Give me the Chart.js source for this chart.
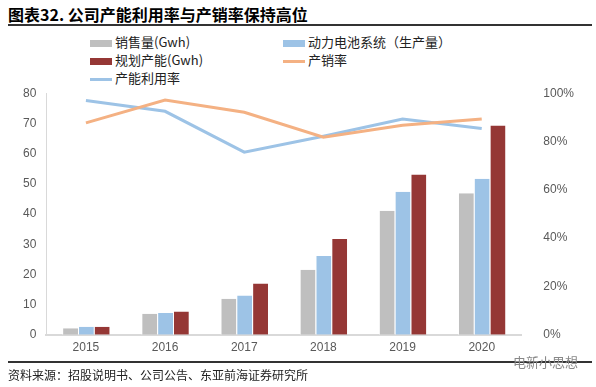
<!DOCTYPE html>
<html>
<head>
<meta charset="utf-8">
<script src="https://cdn.jsdelivr.net/npm/chart.js@4"></script>
<style>
    body { margin: 0; width: 596px; height: 387px; background: #fff; position: relative; overflow: hidden;
           font-family: "Noto Sans CJK SC", "Liberation Sans", sans-serif; }
    #title { position: absolute; left: 8px; top: 2px; font-size: 16px; font-weight: bold; color: #000; }
    .rule { position: absolute; left: 8px; width: 584px; height: 2px; background: #333; }
    #legend { position: absolute; left: 0; top: 0; font-size: 13px; color: #222; }
    .item { position: absolute; white-space: nowrap; line-height: 16px; }
    .box { display: inline-block; width: 22px; height: 7px; vertical-align: middle; margin-right: 3px; }
    .ln { display: inline-block; width: 22px; height: 3px; vertical-align: middle; margin-right: 3px; }
    #wrap { position: absolute; left: 0; top: 64px; width: 596px; height: 300px; }
    #source { position: absolute; left: 8px; top: 366px; font-size: 12px; color: #222; }
    #mark { position: absolute; left: 513px; top: 352px; font-size: 13px; color: #888; }
</style>
</head>
<body>
<div id="title">图表32. 公司产能利用率与产销率保持高位</div>
<div class="rule" style="top:24px"></div>
<div id="legend"></div>
<div id="wrap"><canvas id="c"></canvas></div>
<div class="rule" style="top:361px"></div>
<div id="source">资料来源：招股说明书、公司公告、东亚前海证券研究所</div>
<div id="mark">电新小思想</div>
<script>
// Data
const years = ["2015", "2016", "2017", "2018", "2019", "2020"];
const sales = [2.2, 7.0, 11.9, 21.5, 41.1, 46.9];        // 销售量(Gwh)
const production = [2.7, 7.2, 13.0, 26.1, 47.4, 51.7];  // 动力电池系统（生产量）
const capacity = [2.7, 7.7, 17.0, 31.7, 53.1, 69.3];    // 规划产能(Gwh)
const salesRate = [87.7, 97.2, 92.1, 81.8, 86.7, 89.3];  // 产销率 %
const utilRate = [97.0, 92.5, 75.6, 82.2, 89.3, 85.4];   // 产能利用率 %
const leftTicks = [0, 10, 20, 30, 40, 50, 60, 70, 80];
const rightTicks = [0, 20, 40, 60, 80, 100];

const GRAY = "#bfbfbf", BLUE = "#9dc3e6", RED = "#953735", ORANGE = "#f4b183";

// Legend (two columns like the original)
const legendItems = [
    { label: "销售量(Gwh)", color: GRAY, kind: "box", x: 90, y: 34 },
    { label: "动力电池系统（生产量）", color: BLUE, kind: "box", x: 283, y: 34 },
    { label: "规划产能(Gwh)", color: RED, kind: "box", x: 90, y: 52 },
    { label: "产销率", color: ORANGE, kind: "ln", x: 283, y: 52 },
    { label: "产能利用率", color: BLUE, kind: "ln", x: 90, y: 70 }
];
const legend = document.getElementById("legend");
legendItems.forEach(it => {
    const d = document.createElement("div");
    d.className = "item";
    d.style.left = it.x + "px";
    d.style.top = it.y + "px";
    d.innerHTML = `<span class="${it.kind}" style="background:${it.color}"></span>${it.label}`;
    legend.appendChild(d);
});

const tickFont = { family: "Liberation Sans", size: 12 };

new Chart(document.getElementById("c"), {
    data: {
        labels: years,
        datasets: [
            { type: "line", label: "产销率", data: salesRate, yAxisID: "y2", borderColor: ORANGE,
              borderWidth: 3, pointRadius: 0, tension: 0, order: 0 },
            { type: "line", label: "产能利用率", data: utilRate, yAxisID: "y2", borderColor: BLUE,
              borderWidth: 3, pointRadius: 0, tension: 0, order: 0 },
            { type: "bar", label: "销售量(Gwh)", data: sales, yAxisID: "y", backgroundColor: GRAY,
              borderColor: "#fff", borderWidth: { left: 1, right: 0 }, order: 1 },
            { type: "bar", label: "动力电池系统（生产量）", data: production, yAxisID: "y", backgroundColor: BLUE,
              borderColor: "#fff", borderWidth: { left: 1, right: 0 }, order: 1 },
            { type: "bar", label: "规划产能(Gwh)", data: capacity, yAxisID: "y", backgroundColor: RED,
              borderColor: "#fff", borderWidth: { left: 1, right: 0 }, order: 1 }
        ]
    },
    options: {
        responsive: true,
        maintainAspectRatio: false,
        animation: false,
        layout: { padding: { left: 17, right: 0, top: 6, bottom: 0 } },
        plugins: { legend: { display: false }, tooltip: { enabled: false } },
        datasets: { bar: { categoryPercentage: 0.6, barPercentage: 1.0 } },
        scales: {
            x: {
                grid: { display: false, drawTicks: false },
                border: { color: "#d9d9d9", width: 2 },
                ticks: { color: "#595959", font: tickFont, padding: 6 }
            },
            y: {
                position: "left",
                min: 0, max: 80,
                afterBuildTicks: s => { s.ticks = leftTicks.map(v => ({ value: v })); },
                grid: { display: false, drawTicks: true, tickLength: 4, tickColor: "#d9d9d9" },
                border: { color: "#d9d9d9", width: 1 },
                ticks: { color: "#595959", font: tickFont, padding: 6 }
            },
            y2: {
                position: "right",
                min: 0, max: 100,
                afterBuildTicks: s => { s.ticks = rightTicks.map(v => ({ value: v })); },
                grid: { display: false, drawTicks: false },
                border: { display: false },
                ticks: { color: "#595959", font: tickFont, padding: 22, callback: v => v + "%" }
            }
        }
    }
});
</script>
</body>
</html>
